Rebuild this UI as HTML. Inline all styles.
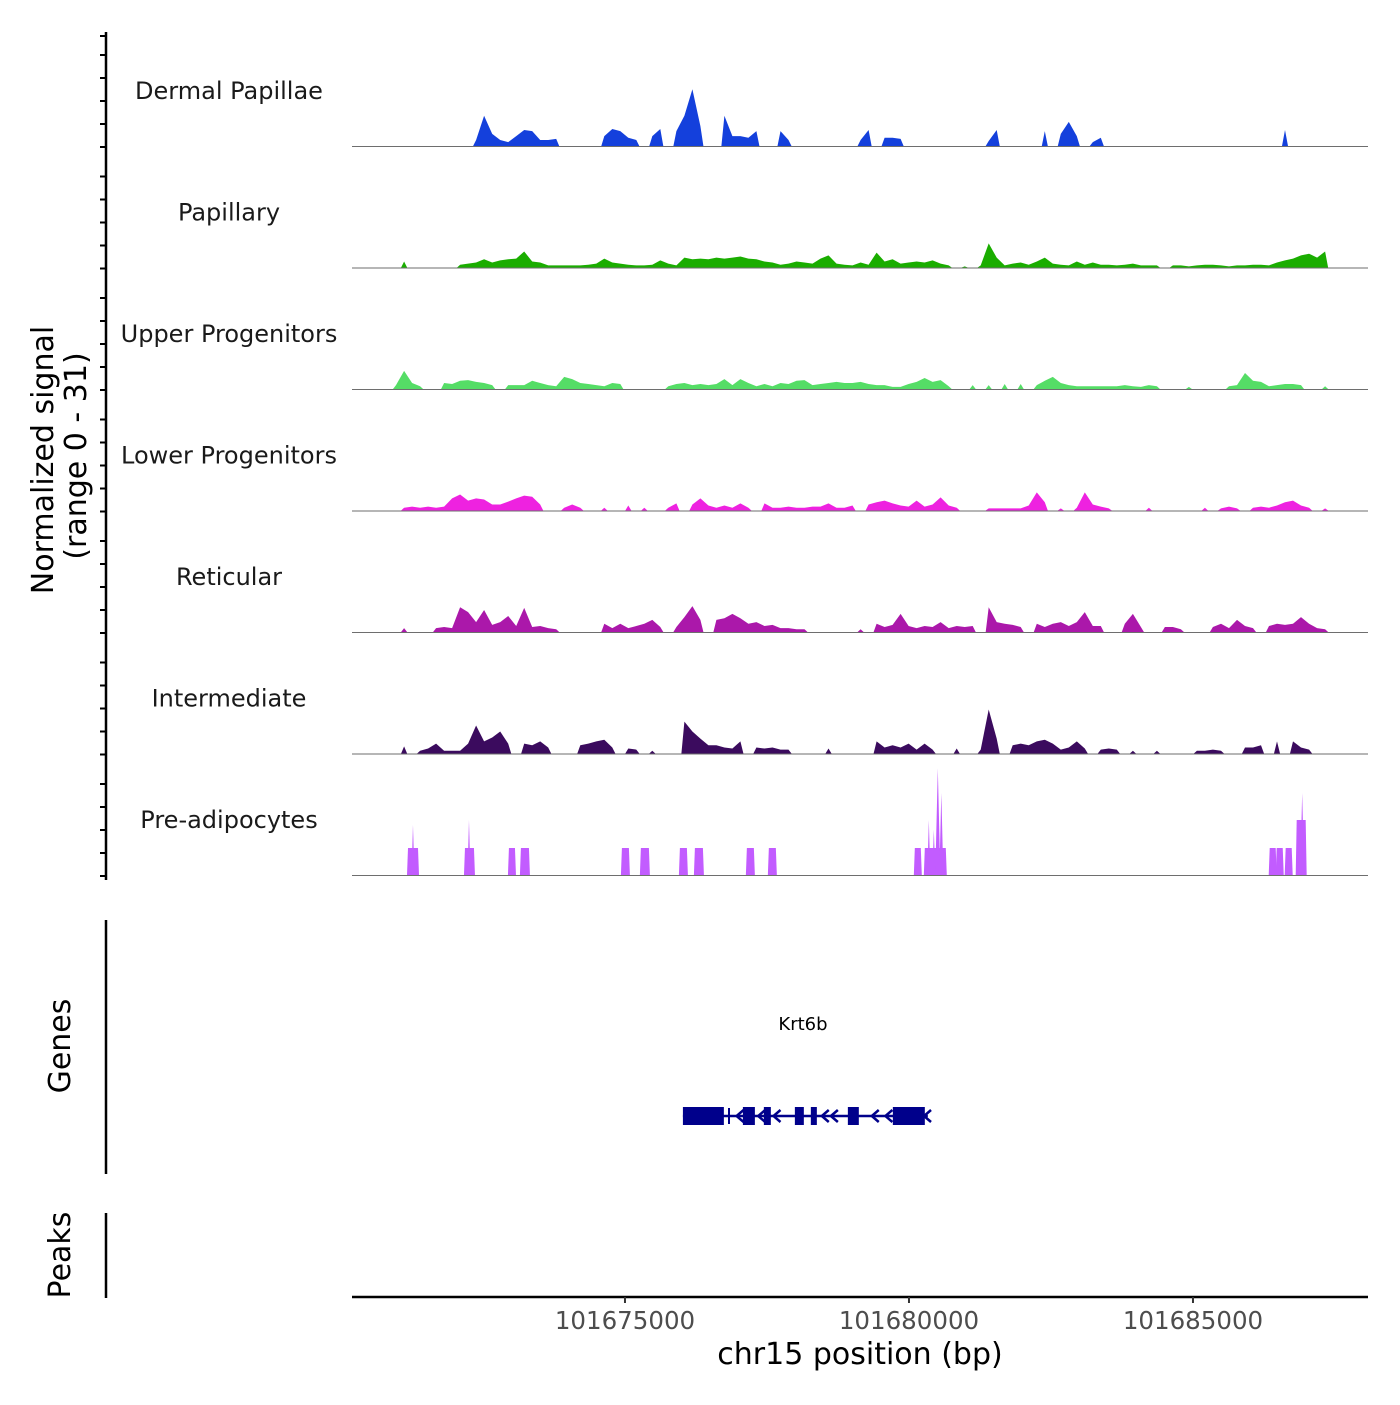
<!DOCTYPE html>
<html><head><meta charset="utf-8"><style>
html,body{margin:0;padding:0;background:#fff;}
svg text{font-family:"DejaVu Sans","Liberation Sans",sans-serif;}
</style></head><body>
<svg id="chart" width="1400" height="1400" viewBox="0 0 1400 1400" xmlns="http://www.w3.org/2000/svg">
<g id="tracks"></g>
<g id="leftaxis"></g>
<text transform="translate(53,460) rotate(-90)" text-anchor="middle" font-size="30" fill="#000">Normalized signal</text>
<text transform="translate(86,456) rotate(-90)" text-anchor="middle" font-size="30" fill="#000">(range 0 - 31)</text>
<line x1="106" y1="920" x2="106" y2="1174" stroke="#000" stroke-width="2.5"/>
<text transform="translate(70,1046) rotate(-90)" text-anchor="middle" font-size="30" fill="#000">Genes</text>
<line x1="106" y1="1213" x2="106" y2="1298" stroke="#000" stroke-width="2.5"/>
<text transform="translate(70,1255) rotate(-90)" text-anchor="middle" font-size="30" fill="#000">Peaks</text>
<g id="gene"></g>
<g id="xaxis"></g>
<text x="860" y="1364" text-anchor="middle" font-size="30" fill="#000">chr15 position (bp)</text>
</svg>
<script>
// ---- data ----
const regionStart = 101670194;
const binSize = 141;
const trackNames = ["Dermal Papillae","Papillary","Upper Progenitors","Lower Progenitors","Reticular","Intermediate","Pre-adipocytes"];
const xTicks = [101675000, 101680000, 101685000];

const dermalBins = [15,16,17,18,19,20,21,22,23,24,25,31,32,33,34,35,37,38,40,41,42,43,46,47,48,49,50,53,54,63,64,66,67,68,79,80,86,88,89,90,92,93,116];
const dermalVals = [1.7,8.5,3.4,1.7,1.1,2.8,4.5,4.2,1.7,1.7,2.0,2.8,4.8,4.2,2.3,1.7,2.8,4.8,4.2,8.5,16,5.6,8.5,2.8,2.8,2.3,4.2,4.2,1.7,1.7,4.5,2.3,2.3,2.0,1.4,4.5,4.2,3.4,6.8,2.8,1.1,2.3,4.5];

const papillaryVals = [0,0,0,0,0,0,1.7,0,0,0,0,0,0,
.8,1.1,1.4,2.3,1.4,2.0,2.3,2.5,4.5,1.7,1.4,.6,
.6,.6,.6,.6,
.8,1.1,2.5,1.4,1.1,.8,.6,.6,.8,2.0,1.1,.6,
2.8,2.3,2.5,2.3,2.8,2.5,2.8,3.1,2.5,2.3,1.7,1.4,
.8,1.1,1.7,1.4,1.1,2.5,3.4,1.1,.8,
.6,1.4,.8,
4.2,1.7,2.3,
1.1,1.4,1.7,1.4,2.0,1.1,.6,
0,.3,0,.6,
6.8,2.8,
.6,1.1,1.4,.8,1.7,2.8,1.1,.8,.6,1.7,.8,
1.4,.8,.8,.6,.8,1.1,.6,
.6,.6,0,.6,.6,.3,.6,.8,.8,.6,.3,.6,.6,.8,.8,.6,
1.4,2.0,2.5,3.4,3.9,2.8,4.5,
0,0,0,0,0,0];

const upperVals = [0,0,0,0,0,
1.1,5.1,1.7,.8,0,0,
1.7,1.4,2.3,2.5,2.0,1.7,1.1,0,
1.1,1.1,
1.1,2.3,1.7,1.1,.8,
3.4,2.8,1.7,1.4,1.1,.8,
1.7,1.4,0,0,0,0,0,
.8,1.4,1.7,1.1,1.4,1.1,1.4,2.8,1.1,
2.8,1.7,.8,
1.4,.8,1.7,1.4,2.3,2.5,1.1,
1.4,1.7,2.0,1.7,1.7,2.0,1.4,1.1,1.1,
.6,.6,
1.4,2.0,3.1,2.0,2.5,.8,
0,0,
1.1,0,1.1,0,1.4,0,1.4,0,
1.1,2.3,3.4,1.7,1.1,
.8,.8,.8,.8,.8,.8,1.1,.8,.6,1.1,.8,0,
0,0,.6,0,0,0,0,
.8,1.1,4.5,2.3,2.0,
.8,1.1,1.4,1.4,1.1,0,
0,.8,0,0,0,0,0,0];

const lowerVals = [0,0,0,0,0,0,
.8,1.1,.8,1.1,.8,
1.1,3.4,4.5,2.8,3.4,3.1,1.7,
1.7,2.5,3.4,4.2,3.9,1.7,
0,0,.8,1.7,.8,0,0,.8,0,0,1.4,0,.8,0,0,
.8,2.0,0,
1.7,3.4,1.4,
.8,1.4,.8,2.0,.8,0,2.0,
.8,.8,1.1,.8,
.8,1.1,1.1,2.0,.8,
.8,1.4,0,
1.7,2.3,2.8,2.0,1.4,
1.1,2.8,1.1,
1.7,3.7,1.4,.8,0,0,0,
.6,.6,.6,.6,.6,
1.4,5.1,2.3,0,.6,0,
.8,5.1,1.7,1.1,.6,
0,0,0,0,.8,0,0,0,0,0,0,.8,0,
.6,1.1,.6,0,
.8,1.1,.8,1.4,2.3,
2.8,1.4,.8,0,.6,
0,0,0,0,0,0];

const reticularVals = [0,0,0,0,0,0,1.1,0,0,0,
1.1,1.4,1.1,
7.0,5.6,2.8,6.2,
2.0,2.8,4.5,1.7,
6.8,1.4,1.7,1.1,.8,
0,0,0,0,0,
2.3,1.1,2.3,1.1,
1.7,2.3,3.4,1.4,0,
1.4,4.2,7.3,3.4,0,
3.4,3.9,5.1,3.9,
2.3,2.8,1.7,2.0,1.1,
1.1,.8,.8,
0,0,0,0,0,0,.8,0,
2.3,1.4,2.0,5.1,1.7,
1.1,1.7,
1.4,2.8,1.1,
1.7,1.4,1.7,0,
7.0,2.8,
2.3,2.0,1.4,0,
2.3,1.4,2.3,2.8,
1.7,2.8,5.6,1.7,
1.7,0,0,
2.3,5.1,1.4,0,0,
1.4,1.4,.8,0,0,0,
1.4,2.3,1.1,
3.4,1.7,1.1,0,
1.7,2.3,2.0,
2.3,4.2,2.3,1.1,
.8,0,0,0,0,0,0];

const intermediateVals = [0,0,0,0,0,0,2.0,0,
.8,1.4,2.8,
.8,.8,.8,
2.8,7.9,3.4,4.5,6.2,2.8,0,
2.8,2.3,3.4,1.7,0,0,0,
2.3,2.8,3.4,3.9,1.7,0,
1.4,1.1,0,.8,0,0,0,
9.0,6.2,4.2,2.3,
2.3,1.7,1.4,3.4,0,
1.7,1.4,1.7,1.1,1.1,
0,0,0,0,1.4,0,0,0,0,0,
3.4,1.7,2.3,1.7,2.8,1.1,
2.8,1.1,0,0,1.4,0,0,1.1,
12.4,4.2,0,
2.3,2.8,2.3,3.4,3.9,2.8,
1.1,1.7,3.4,1.4,0,
1.1,1.4,1.1,0,.8,0,0,.8,0,0,0,0,
.8,.8,1.1,.8,0,0,
1.7,1.7,2.3,0,3.4,0,
3.4,1.7,1.1,
0,0,0,0,0,0,0,0];

const preadStart = [101671180,101671250,101672183,101672236,101672957,101673168,101674946,101675280,101675967,101676231,101677146,101677533,101680103,101680279,101680332,101680420,101680472,101680543,101686351,101686474,101686632,101686826,101686896];
const preadEnd   = [101671356,101671285,101672341,101672271,101673063,101673309,101675069,101675421,101676090,101676372,101677269,101677656,101680208,101680648,101680367,101680455,101680543,101680596,101686456,101686580,101686738,101686984,101686949];
const preadVals  = [7.6,14.1,7.6,15.5,7.6,7.6,7.6,7.6,7.6,7.6,7.6,7.6,7.6,7.6,15.5,12.7,30.1,23.1,7.6,7.6,7.6,15.5,23.1];

const geneStart = 101676020, geneEnd = 101680332;
const exonStart = [101676020,101677076,101677445,101677991,101678272,101678924,101679716];
const exonEnd   = [101676741,101677287,101677568,101678149,101678378,101679117,101680279];
const chevronPos = [101677000,101677380,101677650,101678500,101678660,101679380,101679620,101680300];

// ---- scales ----
const X0 = 352, X1 = 1368;
const pxPerBp = 284/5000;
function xs(bp){ return X0 + (bp - regionStart)*pxPerBp; }
const trackTop0 = 146, trackStep = 121.5, unitPx = 110/31;
function baseY(k){ return trackTop0 + k*trackStep; }
function ys(k, v){ return baseY(k) - v*unitPx; }

const colors = ["#1440dc","#1aad00","#55dd66","#ee22e0","#ab18aa","#3b0b5e","#c25cff"];
const NS = "http://www.w3.org/2000/svg";
function mk(tag, attrs, parent){ const e=document.createElementNS(NS,tag); for(const k in attrs) e.setAttribute(k,attrs[k]); parent.appendChild(e); return e; }

function denseFrom(bins, vals){ const a=new Array(128).fill(0); bins.forEach((b,i)=>{a[b]=vals[i];}); return a; }
const seriesList = [denseFrom(dermalBins, dermalVals), papillaryVals, upperVals, lowerVals, reticularVals, intermediateVals];

const tracks = document.getElementById('tracks');
trackNames.forEach((name,k)=>{
  const g = mk('g',{},tracks);
  
  
  const lbl = mk('text',{x:229,y:baseY(k)-47,'text-anchor':'middle','font-size':'24',fill:'#1a1a1a'},g);
  lbl.textContent = name;
  
  
  if(k<6){
    const vals = seriesList[k];
    let d = 'M'+X0+','+baseY(k);
    vals.forEach((v,i)=>{
      const c = xs(regionStart + (i+0.5)*binSize);
      const prev = i>0?vals[i-1]:0, next = i<vals.length-1?vals[i+1]:0;
      if(v>0 && prev===0) d += ' L'+(c-3).toFixed(1)+','+baseY(k);
      d += ' L'+c.toFixed(1)+','+ys(k,v).toFixed(1);
      if(v>0 && next===0) d += ' L'+(c+3).toFixed(1)+','+baseY(k);
    });
    d += ' L'+xs(regionStart+128*binSize).toFixed(1)+','+baseY(k)+' Z';
    const p = mk('path',{d:d,fill:colors[k]},g);
    
    
  } else {
    preadStart.forEach((s,i)=>{
      const x1=xs(s), x2=xs(preadEnd[i]), v=preadVals[i], yb=baseY(k), yt=ys(k,v);
      let d;
      if(v>8 && (x2-x1)<5){ const m=(x1+x2)/2; d=`M${x1-0.5},${yb} L${m},${yt} L${x2+0.5},${yb} Z`; }
      else d=`M${x1-1},${yb} L${x1},${yt} L${x2},${yt} L${x2+1},${yb} Z`;
      const p = mk('path',{d:d,fill:colors[k]},g);
      
      
    });
  }
  const bl = mk('line',{x1:X0,x2:X1,y1:baseY(k)+0.5,y2:baseY(k)+0.5,stroke:'#6e6e6e','stroke-width':1},g);
  
  
});

// left axis
const la = document.getElementById('leftaxis');
mk('line',{x1:106,y1:32,x2:106,y2:880,stroke:'#000','stroke-width':2.5},la);
for(let k=0;k<7;k++){
  for(let j=0;j<5;j++){
    const y = baseY(k) + 1 - j*23;
    if(y<33) continue;
    const t = mk('line',{x1:100,x2:106,y1:y,y2:y,stroke:'#000','stroke-width':2},la);
    
    
  }
}
const topTick = mk('line',{x1:100,x2:106,y1:36,y2:36,stroke:'#000','stroke-width':2},la);



// gene track
const gg = document.getElementById('gene');
const gl = mk('text',{x:803,y:1030,'text-anchor':'middle','font-size':'18',fill:'#000'},gg);
gl.textContent='Krt6b';


const gy = 1116;
mk('line',{x1:xs(geneStart),x2:xs(geneEnd),y1:gy,y2:gy,stroke:'#00008b','stroke-width':2.5},gg);
exonStart.forEach((s,i)=>{
  const r = mk('rect',{x:xs(s),y:gy-9,width:xs(exonEnd[i])-xs(s),height:18,fill:'#00008b'},gg);
  
  
});
chevronPos.forEach(c=>{
  const x=xs(c);
  const p = mk('path',{d:`M${x+5},${gy-6} L${x-2},${gy} L${x+5},${gy+6}`,fill:'none',stroke:'#00008b','stroke-width':2.5},gg);
  
  
});
mk('line',{x1:729,x2:729,y1:gy-8,y2:gy+8,stroke:'#00008b','stroke-width':2},gg);

// x axis
const xa = document.getElementById('xaxis');
mk('line',{x1:X0,x2:X1,y1:1297,y2:1297,stroke:'#000','stroke-width':2.5},xa);
xTicks.forEach(t=>{
  const x=xs(t);
  const tk = mk('line',{x1:x,x2:x,y1:1297,y2:1303,stroke:'#333','stroke-width':2},xa);
  
  
  const tl = mk('text',{x:x,y:1329,'text-anchor':'middle','font-size':'24.5',fill:'#4d4d4d'},xa);
  tl.textContent = String(t);
  
  
});
</script>
</body></html>
